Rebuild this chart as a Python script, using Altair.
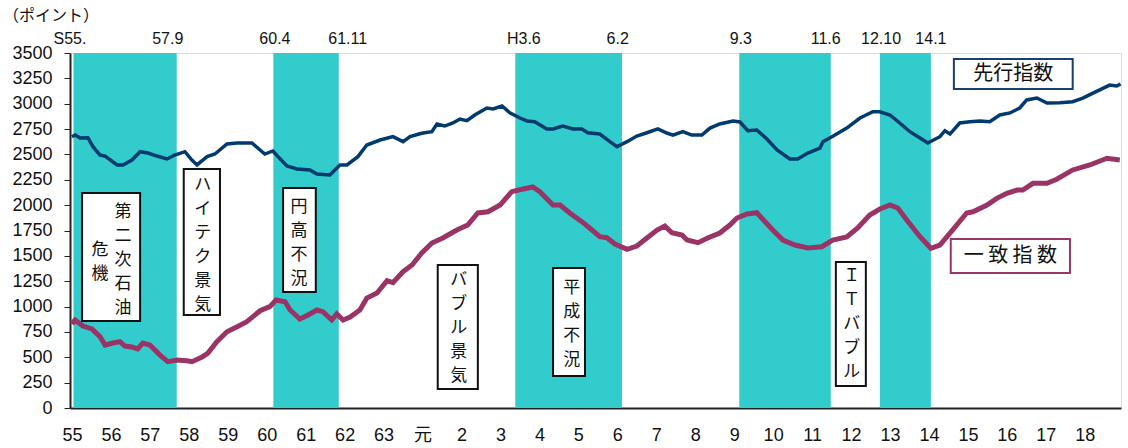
import altair as alt
import pandas as pd

# 景気動向指数 (S55〜H18)  -- decimal year, index points
lead_t = [1980.00, 1980.08, 1980.21, 1980.41, 1980.54, 1980.72, 1980.85, 1981.16, 1981.31, 1981.54,
          1981.75, 1981.95, 1982.18, 1982.44, 1982.64, 1982.90, 1983.08, 1983.21, 1983.47, 1983.67,
          1983.98, 1984.24, 1984.62, 1984.83, 1984.95, 1985.16, 1985.29, 1985.52, 1985.78, 1986.11,
          1986.29, 1986.62, 1986.88, 1987.06, 1987.34, 1987.57, 1987.91, 1988.24, 1988.50, 1988.68,
          1988.91, 1989.01, 1989.24, 1989.37, 1989.57, 1989.78, 1989.96, 1990.14, 1990.34, 1990.65,
          1990.81, 1991.04, 1991.24, 1991.50, 1991.68, 1991.88, 1992.19, 1992.35, 1992.60, 1992.86,
          1993.09, 1993.24, 1993.55, 1993.81, 1993.99, 1994.25, 1994.50, 1994.76, 1995.04, 1995.27,
          1995.43, 1995.68, 1995.91, 1996.17, 1996.38, 1996.63, 1996.97, 1997.15, 1997.35, 1997.58,
          1997.84, 1998.10, 1998.43, 1998.63, 1998.89, 1999.20, 1999.28, 1999.51, 1999.89, 2000.23,
          2000.56, 2000.74, 2001.00, 2001.25, 2001.51, 2001.77, 2001.97, 2002.28, 2002.41, 2002.54,
          2002.79, 2003.05, 2003.31, 2003.56, 2003.82, 2004.08, 2004.33, 2004.51, 2004.77, 2005.03,
          2005.36, 2005.69, 2005.95, 2006.21, 2006.64, 2006.82, 2006.92]
lead_v = [2675, 2691, 2662, 2665, 2576, 2494, 2484, 2396, 2396, 2445,
          2527, 2514, 2484, 2455, 2494, 2527, 2445, 2396, 2478, 2504,
          2603, 2613, 2613, 2544, 2504, 2534, 2478, 2386, 2356, 2347,
          2307, 2297, 2396, 2396, 2478, 2593, 2642, 2675, 2626, 2675,
          2701, 2711, 2724, 2800, 2780, 2810, 2849, 2833, 2889, 2958,
          2948, 2977, 2911, 2859, 2830, 2823, 2751, 2751, 2780, 2751,
          2751, 2714, 2701, 2626, 2576, 2626, 2681, 2714, 2751, 2711,
          2691, 2724, 2691, 2691, 2760, 2800, 2830, 2820, 2734, 2741,
          2652, 2544, 2455, 2455, 2514, 2563, 2626, 2675, 2760, 2859,
          2921, 2921, 2889, 2810, 2724, 2662, 2613, 2675, 2734, 2701,
          2810, 2823, 2830, 2823, 2889, 2909, 2958, 3037, 3056, 3007,
          3010, 3020, 3056, 3105, 3184, 3175, 3194]

coin_t = [1980.00, 1980.08, 1980.28, 1980.51, 1980.72, 1980.85, 1981.05, 1981.23, 1981.36, 1981.54,
          1981.69, 1981.82, 1982.00, 1982.26, 1982.46, 1982.70, 1982.95, 1983.08, 1983.34, 1983.49,
          1983.72, 1983.98, 1984.24, 1984.49, 1984.83, 1985.08, 1985.24, 1985.47, 1985.60, 1985.85,
          1986.06, 1986.29, 1986.44, 1986.67, 1986.80, 1986.96, 1987.14, 1987.39, 1987.57, 1987.83,
          1988.09, 1988.24, 1988.50, 1988.73, 1988.98, 1989.24, 1989.52, 1989.88, 1990.16, 1990.42,
          1990.68, 1990.99, 1991.29, 1991.58, 1991.83, 1992.01, 1992.35, 1992.53, 1992.78, 1993.09,
          1993.35, 1993.55, 1993.73, 1993.94, 1994.25, 1994.50, 1994.76, 1995.02, 1995.22, 1995.40,
          1995.66, 1995.79, 1996.07, 1996.32, 1996.63, 1996.89, 1997.07, 1997.33, 1997.58, 1997.99,
          1998.25, 1998.56, 1998.89, 1999.25, 1999.53, 1999.89, 2000.17, 2000.48, 2000.74, 2001.00,
          2001.20, 2001.43, 2001.77, 2002.05, 2002.28, 2002.61, 2002.97, 2003.13, 2003.49, 2003.74,
          2004.00, 2004.26, 2004.41, 2004.67, 2005.03, 2005.28, 2005.69, 2006.13, 2006.57, 2006.90]
coin_v = [830, 868, 808, 779, 703, 621, 641, 654, 611, 601,
          582, 641, 621, 522, 457, 473, 466, 457, 503, 542,
          654, 752, 802, 851, 959, 999, 1065, 1048, 966, 877,
          917, 966, 950, 868, 927, 868, 897, 966, 1084, 1134,
          1255, 1236, 1344, 1410, 1528, 1627, 1676, 1755, 1804, 1923,
          1935, 2001, 2133, 2159, 2179, 2133, 2001, 2001, 1923, 1837,
          1755, 1689, 1679, 1617, 1565, 1597, 1676, 1755, 1794, 1728,
          1706, 1656, 1630, 1676, 1725, 1804, 1873, 1913, 1925, 1755,
          1656, 1607, 1577, 1590, 1656, 1686, 1775, 1903, 1962, 2001,
          1972, 1853, 1689, 1575, 1607, 1755, 1923, 1935, 2001, 2067,
          2117, 2149, 2149, 2215, 2215, 2255, 2347, 2396, 2462, 2445]

# 景気後退期
band_start = [1980.04, 1985.17, 1991.38, 1997.13, 2000.74]
band_end = [1982.69, 1986.85, 1994.12, 1999.48, 2002.05]

# 山・谷の表示
edge_labels = ["S55.", "57.9", "60.4", "61.11", "H3.6", "6.2", "9.3", "11.6", "12.10", "14.1"]
edge_label_t = [1979.95, 1982.46, 1985.21, 1987.08, 1991.60, 1994.01, 1997.17, 1999.35, 2000.77, 2002.05]

# 縦書きの注記 (列ごと)
note_cols = ["第二次石油", "危機", "ハイテク景気", "円高不況", "バブル景気", "平成不況", "ＩＴバブル"]
note_col_t = [1981.31, 1980.72, 1983.36, 1985.83, 1989.93, 1992.83, 2000.02]
note_col_top = [1932, 1558, 2199, 1982, 1262, 1183, 1301]
note_box_t1 = [1980.26, 1982.87, 1985.42, 1989.39, 1992.35, 1999.61]
note_box_t2 = [1981.75, 1983.80, 1986.26, 1990.42, 1993.17, 2000.38]
note_box_top = [2120, 2356, 2169, 1410, 1380, 1439]
note_box_bottom = [858, 917, 1144, 187, 315, 217]

# 系列名ラベル
legend_names = ["先行指数", "一 致 指 数"]
legend_colors = ["#17406d", "#9b3466"]
legend_t1 = [2002.64, 2002.56]
legend_t2 = [2005.69, 2005.62]
legend_top = [3441, 1666]
legend_bottom = [3145, 1331]

X_DOMAIN = [1979.95, 2006.93]
Y_DOMAIN = [0, 3500]
CHAR_STEP = 237  # index points per character row
JP_FONT = "Noto Sans CJK JP"
NUM_FONT = "Liberation Sans"

x_axis = alt.Axis(
    values=list(range(1980, 2007)),
    labelExpr="datum.value == 1989 ? '元' : (datum.value < 1989 ? '' + (datum.value - 1925) : '' + (datum.value - 1988))",
    tickSize=0, labelPadding=18, labelFontSize=18, labelFont=NUM_FONT + ", " + JP_FONT,
    labelColor="#111", domainColor="#222", domainWidth=2, grid=False,
    labelFlush=False, labelOverlap=False, title=None,
)
y_axis = alt.Axis(
    values=list(range(0, 3501, 250)), format="d",
    tickSize=6, tickColor="#222", labelPadding=12, labelFontSize=18, labelFont=NUM_FONT,
    labelColor="#111", domainColor="#222", domainWidth=2, grid=False,
    labelFlush=False, title=None,
)


def X(field):
    return alt.X(field, type="quantitative", scale=alt.Scale(domain=X_DOMAIN, nice=False, zero=False), axis=x_axis)


def Y(field):
    return alt.Y(field, type="quantitative", scale=alt.Scale(domain=Y_DOMAIN, nice=False), axis=y_axis)


lead_df = pd.DataFrame({"t": lead_t, "v": lead_v})
coin_df = pd.DataFrame({"t": coin_t, "v": coin_v})
band_df = pd.DataFrame({"t1": band_start, "t2": band_end, "lo": 0, "hi": 3500})
edge_df = pd.DataFrame({"t": edge_label_t, "label": edge_labels})

char_rows = []
for text, t, top in zip(note_cols, note_col_t, note_col_top):
    for i, ch in enumerate(text):
        char_rows.append({"t": t, "v": top - i * CHAR_STEP, "ch": ch})
char_df = pd.DataFrame(char_rows)
box_df = pd.DataFrame({"t1": note_box_t1, "t2": note_box_t2, "top": note_box_top, "bottom": note_box_bottom})

leg_df = pd.DataFrame({
    "name": legend_names, "color": legend_colors,
    "t1": legend_t1, "t2": legend_t2, "top": legend_top, "bottom": legend_bottom,
})
leg_df["tm"] = (leg_df["t1"] + leg_df["t2"]) / 2
leg_df["vm"] = (leg_df["top"] + leg_df["bottom"]) / 2

bands = alt.Chart(band_df).mark_rect(color="#33cccc").encode(
    x=X("t1"), x2="t2", y=Y("lo"), y2="hi"
)
lead_line = alt.Chart(lead_df).mark_line(color="#003a6f", strokeWidth=3.5).encode(x=X("t"), y=Y("v"))
coin_line = alt.Chart(coin_df).mark_line(color="#9b3466", strokeWidth=5).encode(x=X("t"), y=Y("v"))

note_boxes = alt.Chart(box_df).mark_rect(fill="white", stroke="#111", strokeWidth=2).encode(
    x=X("t1"), x2="t2", y=Y("top"), y2="bottom"
)
note_chars = alt.Chart(char_df).mark_text(
    font=JP_FONT, fontSize=17, color="#111", align="center", baseline="middle"
).encode(x=X("t"), y=Y("v"), text="ch:N")

leg_boxes = alt.Chart(leg_df).mark_rect(fill="white", strokeWidth=2).encode(
    x=X("t1"), x2="t2", y=Y("top"), y2="bottom",
    stroke=alt.Stroke("color:N", scale=None),
)
leg_text = alt.Chart(leg_df).mark_text(
    font=JP_FONT, fontSize=20, color="#111", align="center", baseline="middle"
).encode(x=X("tm"), y=Y("vm"), text="name:N")

edge_text = alt.Chart(edge_df).mark_text(
    font=NUM_FONT, fontSize=16, color="#111", align="center", baseline="middle"
).encode(x=X("t"), y=alt.value(-14), text="label:N")

unit_text = alt.Chart(pd.DataFrame({"s": ["（ポイント）"]})).mark_text(
    font=JP_FONT, fontSize=16, color="#111", align="left", baseline="middle"
).encode(x=alt.value(-67), y=alt.value(-37), text="s:N")

chart = alt.layer(
    bands, lead_line, coin_line, note_boxes, note_chars, leg_boxes, leg_text, edge_text, unit_text
).properties(
    width=1051, height=355,
    autosize=alt.AutoSizeParams(type="none"),
    padding={"left": 70, "top": 53, "right": 7, "bottom": 40},
).configure_view(stroke="#222", strokeWidth=2).configure(background="white")

chart.save("out.html", embed_options={"renderer": "svg", "actions": False})
